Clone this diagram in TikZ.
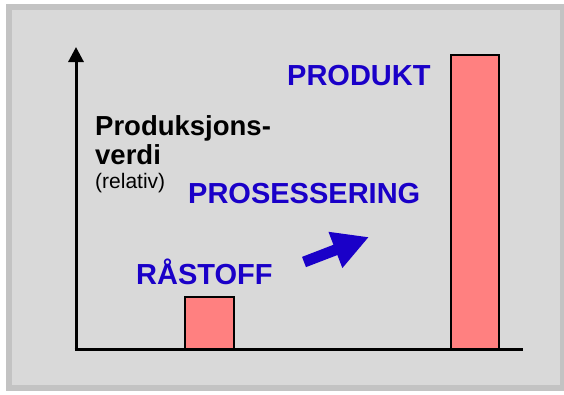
\documentclass[tikz,border=0pt]{standalone}
\usepackage{fontspec}
\setmainfont{Liberation Sans}
\usetikzlibrary{arrows.meta}
\definecolor{panelbg}{HTML}{D9D9D9}
\definecolor{panelrim}{HTML}{C3C3C3}
\definecolor{barfill}{HTML}{FF8080}
\definecolor{labelblue}{RGB}{26,0,200}
\begin{document}
\begin{tikzpicture}[x=1pt,y=-1pt,
  bigblue/.style={inner sep=0pt, anchor=base west, text=labelblue, font=\fontsize{29}{31}\selectfont\bfseries},
  bigblack/.style={inner sep=0pt, anchor=base west, font=\fontsize{27.5}{29}\selectfont\bfseries},
  smallblack/.style={inner sep=0pt, anchor=base west, font=\fontsize{21}{23}\selectfont},
  bar/.style={fill=barfill, draw=black, line width=2pt},
  axis/.style={line width=3pt},
  fatarrow/.style={line width=11pt, draw=labelblue, -{Triangle[width=36pt,length=36pt]}}]
\useasboundingbox (0,0) rectangle (564,394);
\fill[white] (0,0) rectangle (564,394);
\fill[panelrim] (6,4) rectangle (564,391);
\fill[panelbg] (12,10) rectangle (560,385);
% bars
\draw[bar] (185,349) rectangle (234,297);
\draw[bar] (451,349) rectangle (499,55);
% axes
\coordinate (origin) at (76,349);
\coordinate (ytop) at (76,47);
\coordinate (xend) at (523,349);
\draw[axis, -{Triangle[width=15pt,length=15pt]}] (origin) -- (ytop);
\draw[axis] ([xshift=-1.5pt]origin) -- (xend);
% labels
\node[bigblue] (produkt) at (287,85) {PRODUKT};
\node[bigblue] (prosess) at (188,203) {PROSESSERING};
\node[bigblue] (ra) at (136,284) {RÅSTOFF};
\node[bigblack] (prod1) at (95,135) {Produksjons-};
\node[bigblack] (prod2) at (95,164) {verdi};
\node[smallblack] (rel) at (95,188) {(relativ)};
% arrow
\coordinate (atail) at (304,262);
\coordinate (atip) at (369,237);
\draw[fatarrow] (atail) -- (atip);
\end{tikzpicture}
\end{document}
